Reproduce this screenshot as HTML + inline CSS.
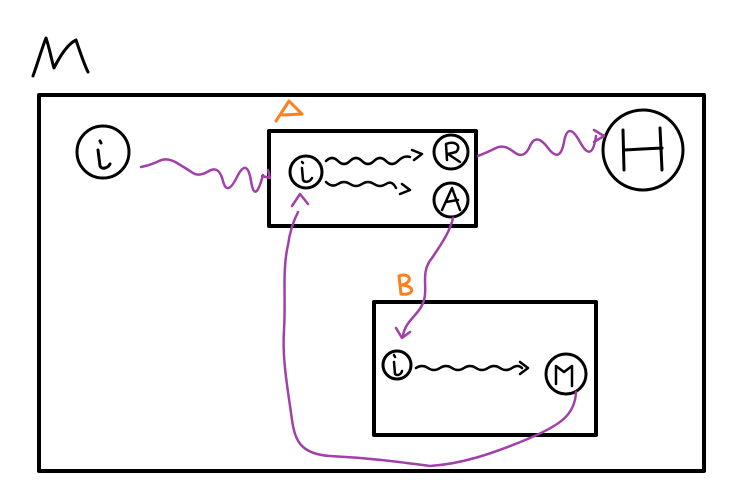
<!DOCTYPE html>
<html><head><style>html,body{margin:0;padding:0;background:#fff;}svg{display:block}</style></head>
<body>
<svg width="750" height="500" viewBox="0 0 750 500" xmlns="http://www.w3.org/2000/svg">
<g fill="none" stroke="#000" stroke-linecap="round" stroke-linejoin="round">
<path d="M33,76 C38,62 42,48 46,38 C50,50 52,62 54,68 C60,56 68,44 76,40 C80,52 84,64 88,72" stroke-width="3"/>
<rect x="39" y="95" width="665" height="376" stroke-width="4"/>
<rect x="269" y="131" width="207" height="95" stroke-width="4"/>
<rect x="374" y="302" width="222" height="133" stroke-width="4"/>
<circle cx="103" cy="152" r="26" stroke-width="3"/>
<circle cx="643" cy="150" r="40" stroke-width="3"/>
<circle cx="306" cy="172" r="16" stroke-width="3"/>
<circle cx="451" cy="152" r="17" stroke-width="3"/>
<circle cx="451" cy="200" r="17" stroke-width="3"/>
<circle cx="397" cy="365" r="14" stroke-width="3"/>
<circle cx="566" cy="374" r="20" stroke-width="3"/>
<path d="M98,150 L100,166 C102,170 108,168 110,164 M100,141 L101,143" stroke-width="3"/>
<path d="M623,130 L624,170 M624,150 L662,148 M660,128 L662,170" stroke-width="3"/>
<path d="M302,168 L303,180 C305,183 310,182 312,178 M302,162 L303,163" stroke-width="2.5"/>
<path d="M447,160 L446,144 C455,140 462,146 456,152 L448,154 L460,162" stroke-width="2.5"/>
<path d="M442,210 L452,188 L460,210 M446,202 L458,200" stroke-width="2.5"/>
<path d="M394,362 L395,374 C397,376 401,375 402,371 M394,355 L395,357" stroke-width="2.5"/>
<path d="M556,384 L556,366 L564,372 L572,366 L572,386" stroke-width="2.5"/>
<path d="M326,161 q6,-6 12,0 t12,0 t12,0 t12,0 t12,0 t12,0 t12,-4 M412,150 l10,4 l-8,6" stroke-width="2.5"/>
<path d="M326,182 q6,6 12,2 t12,0 t12,0 t12,0 t12,0 t10,4 M402,184 l8,6 l-10,4" stroke-width="2.5"/>
<path d="M416,368 q6,-4 12,0 t12,0 t12,0 t12,0 t12,0 t12,0 t12,0 t12,0 t10,0 M520,362 l8,6 l-8,6" stroke-width="2.5"/>
</g>
<g fill="none" stroke="#ff7f1e" stroke-width="3" stroke-linecap="round" stroke-linejoin="round">
<path d="M276,121 L289,101 L302,114 L283,115"/>
<path d="M399,276 L401,294 M399,276 C410,272 414,282 402,285 C416,286 414,296 401,294"/>
</g>
<g fill="none" stroke="#a040a8" stroke-width="2.5" stroke-linecap="round" stroke-linejoin="round">
<path d="M141,167 q10,-2 18,-6 t18,2 t16,10 t16,-2 t14,10 t14,-4 t14,4 t12,-6 M262,176 l8,2 l-2,-8"/>
<path d="M478,156 q10,-4 18,-8 t18,4 t16,-6 t18,2 t16,-6 t16,0 t16,-6 M594,130 l10,6 l-10,6"/>
<path d="M453,218 C450,232 440,246 432,258 C420,272 428,288 424,300 C420,315 405,320 403,336 M396,328 l6,10 l8,-6"/>
<path d="M576,392 C575,415 560,425 530,438 C490,455 460,464 430,466 C400,462 370,458 330,456 C300,454 295,440 292,420 C288,390 282,360 284,330 C286,300 282,270 288,245 C290,230 294,220 298,212 M292,206 l8,-12 l8,10"/>
</g>
</svg>
</body></html>
